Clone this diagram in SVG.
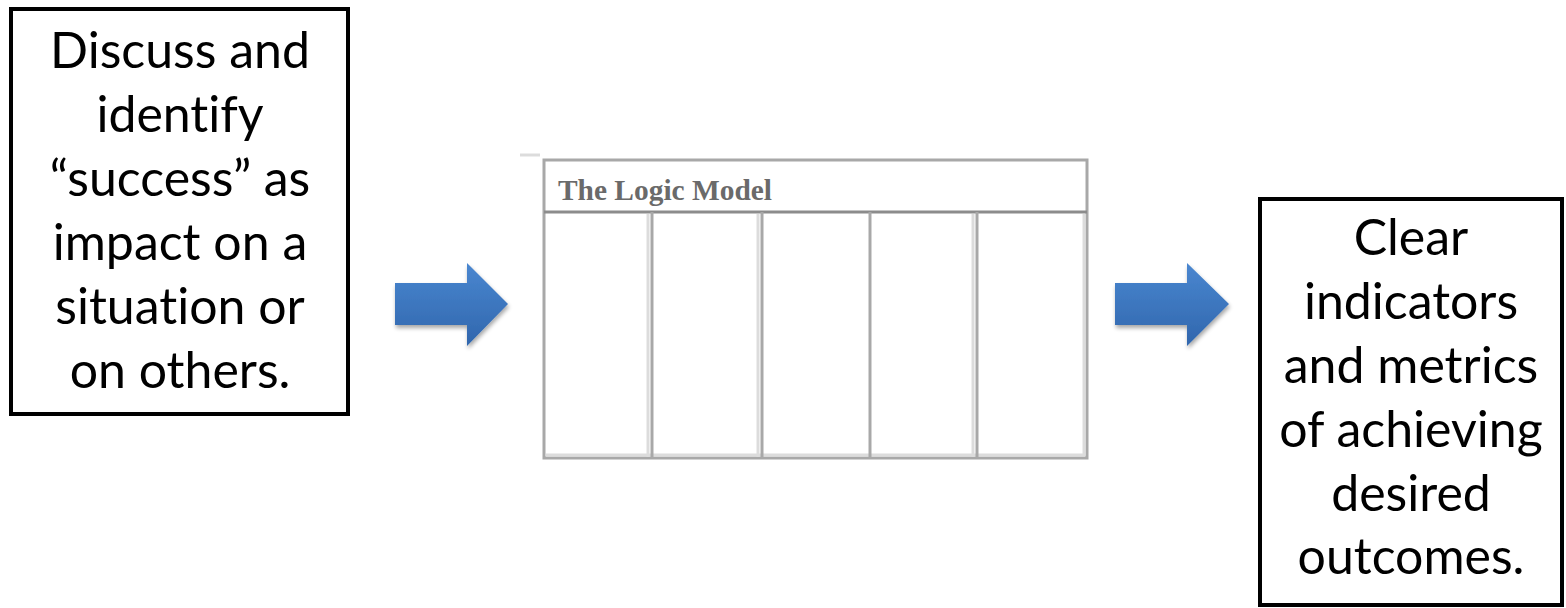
<svg xmlns="http://www.w3.org/2000/svg" width="1566" height="608" viewBox="0 0 1566 608">
<style>
.box{fill:#fff;stroke:#000;stroke-width:4}
.lbl{font-family:Lato,"Liberation Sans",sans-serif;font-size:50px;fill:#000;text-anchor:middle;font-variant-ligatures:none;font-feature-settings:"liga" 0}
.grid{stroke:#a8a8a8;stroke-width:3;fill:none}
.shade{stroke:#dcdcdc;stroke-width:3;fill:none}
.arrow{fill:url(#blue);filter:url(#sh)}
</style>
<defs>
<linearGradient id="blue" x1="0" y1="0" x2="0" y2="1">
<stop offset="0" stop-color="#4a87d0"/>
<stop offset="1" stop-color="#3066ad"/>
</linearGradient>
<filter id="sh" x="-20%" y="-20%" width="150%" height="150%">
<feGaussianBlur in="SourceAlpha" stdDeviation="2"/>
<feOffset dx="1" dy="3"/>
<feComponentTransfer><feFuncA type="linear" slope="0.35"/></feComponentTransfer>
<feMerge><feMergeNode/><feMergeNode in="SourceGraphic"/></feMerge>
</filter>
</defs>
<g id="node-left">
<rect class="box" x="11" y="9" width="337" height="405"/>
<text class="lbl" x="180" y="68">Discuss and</text>
<text class="lbl" x="180" y="132">identify</text>
<text class="lbl" x="180" y="196">“success” as</text>
<text class="lbl" x="180" y="260">impact on a</text>
<text class="lbl" x="180" y="324">situation or</text>
<text class="lbl" x="180" y="388">on others.</text>
</g>
<g id="node-logic-model">
<path class="shade" d="M520 155 H540"/>
<rect class="grid" x="544" y="160" width="543" height="298"/>
<line x1="544" y1="212" x2="1087" y2="212" stroke="#8c8c8c" stroke-width="3"/>
<g class="shade">
<line x1="648" y1="214" x2="648" y2="457"/>
<line x1="758" y1="214" x2="758" y2="457"/>
<line x1="973" y1="214" x2="973" y2="457"/>
<line x1="546" y1="455" x2="1085" y2="455"/>
<line x1="1084" y1="214" x2="1084" y2="455"/>
</g>
<g class="grid">
<line x1="652" y1="212" x2="652" y2="458"/>
<line x1="762" y1="212" x2="762" y2="458"/>
<line x1="870" y1="212" x2="870" y2="458"/>
<line x1="977" y1="212" x2="977" y2="458"/>
</g>
<text x="558" y="200" font-family="Liberation Serif,serif" font-size="29" font-weight="bold" fill="#6a6a6a" textLength="214" lengthAdjust="spacingAndGlyphs">The Logic Model</text>
</g>
<g id="connectors">
<path class="arrow" d="M395 283 H467 V263 L508 304 L467 346 V325 H395 Z"/>
<path class="arrow" d="M1115 283 H1187 V263 L1229 304 L1187 346 V325 H1115 Z"/>
</g>
<g id="node-right">
<rect class="box" x="1260" y="199" width="302" height="406"/>
<text class="lbl" x="1411" y="255">Clear</text>
<text class="lbl" x="1411" y="319">indicators</text>
<text class="lbl" x="1411" y="383">and metrics</text>
<text class="lbl" x="1411" y="447">of achieving</text>
<text class="lbl" x="1411" y="511">desired</text>
<text class="lbl" x="1411" y="574">outcomes.</text>
</g>
</svg>
